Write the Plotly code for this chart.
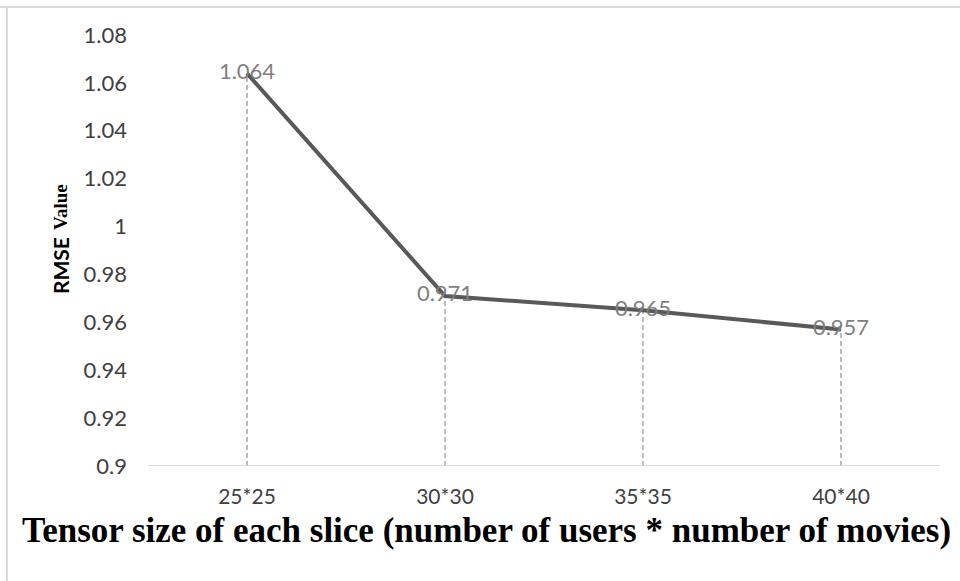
import plotly.graph_objects as go

# Tensor slice sizes and the RMSE measured for each
slice_sizes = ["25*25", "30*30", "35*35", "40*40"]
rmse_values = [1.064, 0.971, 0.965, 0.957]
rmse_labels = ["1.064", "0.971", "0.965", "0.957"]
y_ticks = [0.9, 0.92, 0.94, 0.96, 0.98, 1.0, 1.02, 1.04, 1.06, 1.08]
y_tick_text = ["0.9", "0.92", "0.94", "0.96", "0.98", "1", "1.02", "1.04", "1.06", "1.08"]
y_floor = 0.9

fig = go.Figure()

# dashed drop lines from each point down to the category axis
for cat, val in zip(slice_sizes, rmse_values):
    fig.add_trace(go.Scatter(
        x=[cat, cat], y=[y_floor, val], mode="lines",
        line=dict(color="#a6a6a6", width=1.5, dash="5px,3px"),
        hoverinfo="skip", showlegend=False,
    ))

# main RMSE line with value labels centred on the points
fig.add_trace(go.Scatter(
    x=slice_sizes, y=rmse_values, mode="lines+text",
    line=dict(color="#595959", width=4),
    text=rmse_labels, textposition="middle center",
    textfont=dict(family="Lato, Carlito, sans-serif", size=22, color="#7f7f7f"),
    showlegend=False,
))

fig.update_layout(
    width=960, height=581,
    margin=dict(l=148, r=20, t=35, b=115),
    paper_bgcolor="white", plot_bgcolor="white",
    xaxis=dict(
        type="category", range=[-0.5, 3.5],
        showgrid=False, zeroline=False,
        showline=False, ticks="",
        tickfont=dict(family="Lato, sans-serif", size=21, color="#404040"),
        ticklabelstandoff=16,
    ),
    yaxis=dict(
        range=[0.9, 1.08], tickvals=y_ticks, ticktext=y_tick_text,
        showgrid=False, zeroline=False, showline=False, ticks="",
        tickfont=dict(family="Lato, Carlito, sans-serif", size=22, color="#404040"),
        ticklabelstandoff=20,
    ),
    shapes=[
        # category axis baseline
        dict(type="line", xref="x domain", yref="y", x0=0, x1=1, y0=y_floor, y1=y_floor,
             line=dict(color="#d9d9d9", width=2)),
        # chart frame, top and left edges
        dict(type="line", xref="paper", yref="paper", x0=-148/792, x1=1.1, y0=1 + 28/431, y1=1 + 28/431,
             line=dict(color="#d9d9d9", width=2)),
        dict(type="line", xref="paper", yref="paper", x0=-141/792, x1=-141/792, y0=-0.5, y1=1 + 29/431,
             line=dict(color="#d9d9d9", width=2)),
    ],
    annotations=[
        dict(text="Tensor size of each slice (number of users * number of movies)",
             xref="paper", yref="paper", x=(486 - 148) / 792, y=-(530 - 466) / 431,
             xanchor="center", yanchor="middle", showarrow=False,
             font=dict(family="Liberation Serif, Times New Roman, serif", size=35, color="black", weight="bold")),
        # y-axis title, set in two faces
        dict(text="RMSE",
             xref="paper", yref="paper", x=-(148 - 60) / 792, y=(466 - 266) / 431,
             xanchor="center", yanchor="middle", showarrow=False, textangle=-90,
             font=dict(family="Lato", size=21, color="black", weight="bold")),
        dict(text="Value",
             xref="paper", yref="paper", x=-(148 - 60) / 792, y=(466 - 207) / 431,
             xanchor="center", yanchor="middle", showarrow=False, textangle=-90,
             font=dict(family="Liberation Serif", size=19, color="black", weight="bold")),
    ],
)

fig.write_html("out.html")
